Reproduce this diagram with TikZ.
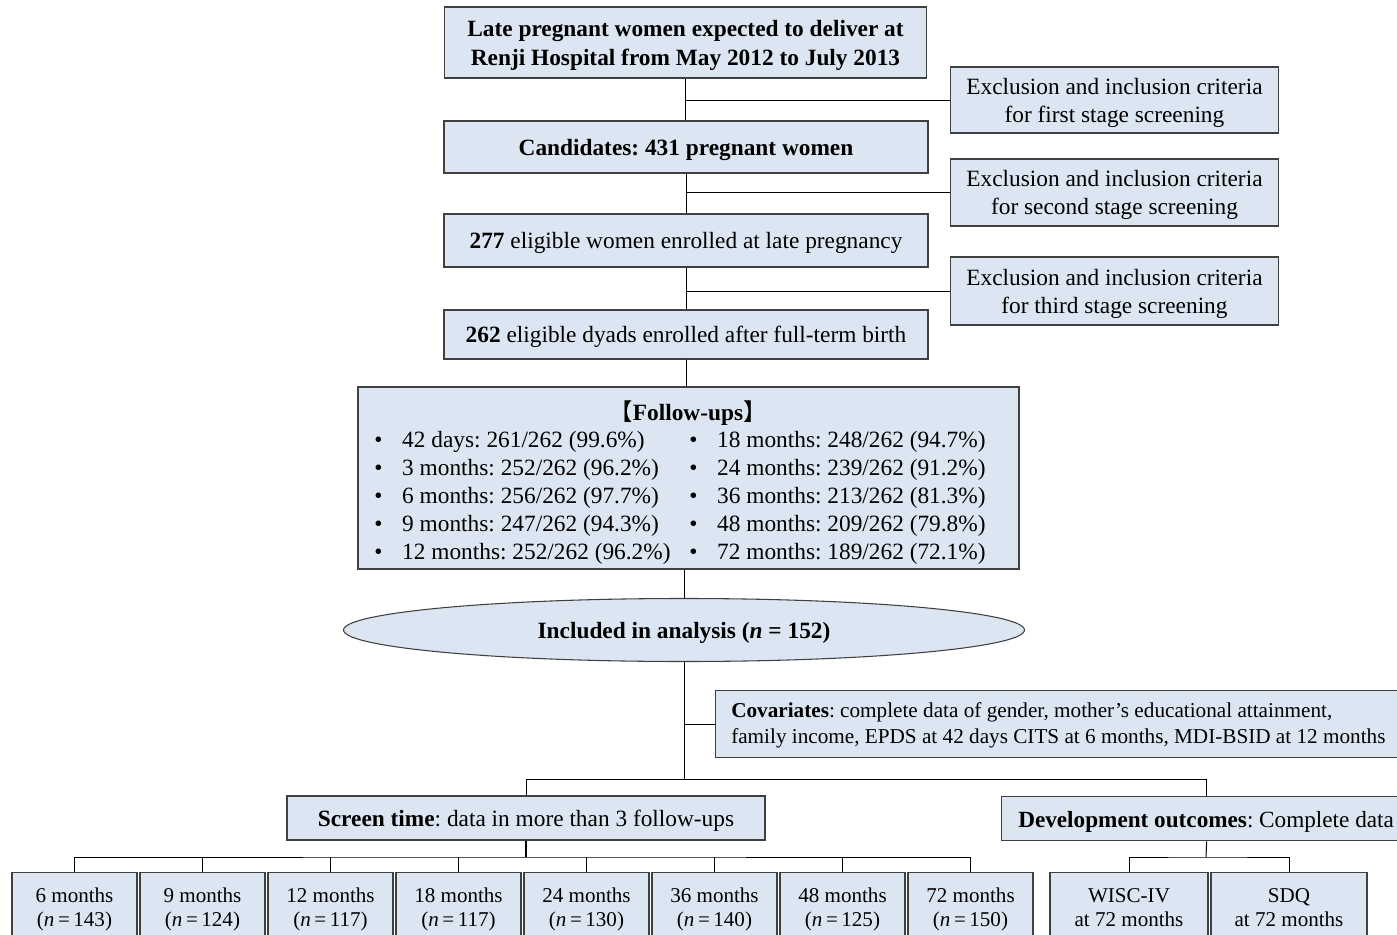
\documentclass[tikz,border=0pt]{standalone}
\usepackage{fontspec}
\setmainfont{Liberation Serif}
\newfontfamily\cjk{Noto Sans CJK SC}
\usetikzlibrary{shapes.geometric}
\definecolor{boxblue}{HTML}{DCE6F2}
\definecolor{boxline}{HTML}{404040}
\def\pu{0.75pt}
\newcommand\bul{\makebox[21pt][l]{•}}
\frenchspacing
\begin{document}
\begin{tikzpicture}[x=0.75pt,y=-0.75pt,
  every node/.style={font=\fontsize{17.5}{21.75}\selectfont},
  box/.style={draw=boxline, fill=boxblue, line width=1pt, inner sep=0pt, align=center, text depth=0pt},
  small/.style={font=\fontsize{15.8}{18}\selectfont},
  txt/.style={inner sep=0pt, anchor=west},
  conn/.style={line width=0.75pt, black}]
\useasboundingbox (0,0) rectangle (1397,935);
\clip (0,0) rectangle (1397,935);

% main column
\node[box, minimum width=482*\pu, minimum height=71*\pu] (b1) at (685.5,42.5)
  {\bfseries Late pregnant women expected to deliver at\\\bfseries Renji Hospital from May 2012 to July 2013};
\node[box, minimum width=484*\pu, minimum height=52*\pu] (b2) at (686,147)
  {\textbf{Candidates: 431 pregnant women}};
\node[box, minimum width=484*\pu, minimum height=53*\pu] (b3) at (686,240.5)
  {\textbf{277} eligible women enrolled at late pregnancy};
\node[box, minimum width=484*\pu, minimum height=49*\pu] (b4) at (686,334.5)
  {\textbf{262} eligible dyads enrolled after full-term birth};

% criteria boxes
\tikzset{crit/.style={box, minimum width=328*\pu, font=\fontsize{17.5}{21}\selectfont}}
\node[crit, minimum height=66*\pu] (c1) at (1114.5,100)
  {Exclusion and inclusion criteria\\for first stage screening};
\node[crit, minimum height=67*\pu] (c2) at (1114.5,192.5)
  {Exclusion and inclusion criteria\\for second stage screening};
\node[crit, minimum height=68*\pu] (c3) at (1114.5,291)
  {Exclusion and inclusion criteria\\for third stage screening};

% follow-ups
\node[box, minimum width=661*\pu, minimum height=182*\pu] (fu) at (688.5,478) {};
\node[text depth=0pt] (fut) at (688,411) {{\cjk 【}\textbf{Follow-ups}{\cjk 】}};
\tikzset{row/.style={txt, text depth=0pt}}
\node[row] (fa1) at (374,439.5) {\bul 42 days: 261/262 (99.6\%)};
\node[row] (fa2) at (374,467.5) {\bul 3 months: 252/262 (96.2\%)};
\node[row] (fa3) at (374,495.5) {\bul 6 months: 256/262 (97.7\%)};
\node[row] (fa4) at (374,523.5) {\bul 9 months: 247/262 (94.3\%)};
\node[row] (fa5) at (374,551.5) {\bul 12 months: 252/262 (96.2\%)};
\node[row] (fb1) at (689,439.5) {\bul 18 months: 248/262 (94.7\%)};
\node[row] (fb2) at (689,467.5) {\bul 24 months: 239/262 (91.2\%)};
\node[row] (fb3) at (689,495.5) {\bul 36 months: 213/262 (81.3\%)};
\node[row] (fb4) at (689,523.5) {\bul 48 months: 209/262 (79.8\%)};
\node[row] (fb5) at (689,551.5) {\bul 72 months: 189/262 (72.1\%)};

% ellipse
\node[box, ellipse, line width=0.8pt, minimum width=681*\pu, minimum height=63*\pu] (el) at (684,630)
  {\textbf{Included in analysis (\textit{n} = 152)}};

% covariates
\node[box, anchor=north west, minimum width=690*\pu, minimum height=67*\pu] (cov) at (715,690) {};
\node[txt, align=left, font=\fontsize{15.9}{19.5}\selectfont] (covt) at (731,725.5)
  {\textbf{Covariates}: complete data of gender, mother's educational attainment,\\family income, EPDS at 42 days CITS at 6 months, MDI-BSID at 12 months};

% second level
\node[box, minimum width=478*\pu, minimum height=44*\pu] (st) at (526,818)
  {\textbf{Screen time}: data in more than 3 follow-ups};
\node[box, anchor=north west, minimum width=410*\pu, minimum height=44*\pu] (dev) at (1001,796) {};
\node[txt, text depth=0pt, font=\fontsize{17.4}{21}\selectfont] (devt) at (1018,819) {\textbf{Development outcomes}: Complete data};

% bottom row
\foreach \i/\t/\n in {0/6/143,1/9/124,2/12/117,3/18/117,4/24/130,5/36/140,6/48/125,7/72/150}
  \node[box, small, anchor=north, minimum width=125*\pu, minimum height=70*\pu] (m\i) at (74.5+128*\i,872)
    {\t\ months\\(\textit{n}\,=\,\n)};
\node[box, small, anchor=north, minimum width=158*\pu, minimum height=70*\pu] (wisc) at (1129,872) {WISC-IV\\at 72 months};
\node[box, small, anchor=north, minimum width=156*\pu, minimum height=70*\pu] (sdq) at (1289,872) {SDQ\\at 72 months};

% connectors
\coordinate (jt) at (684,779);
\coordinate (sb) at (526,857);
\coordinate (db) at (1206,857);
\draw[conn] (b1.south) -- (b1.south |- b2.north);
\draw[conn] (b1.south |- c1.west) -- (c1.west);
\draw[conn] (b2.south) -- (b2.south |- b3.north);
\draw[conn] (b2.south |- c2.west) -- (c2.west);
\draw[conn] (b3.south) -- (b3.south |- b4.north);
\draw[conn] (b3.south |- c3.west) -- (c3.west);
\draw[conn] (b4.south) -- (b4.south |- fu.north);
\draw[conn] (el.north |- fu.south) -- (el.north);
\draw[conn] (el.south) -- (jt);
\draw[conn] (el.south |- cov.west) -- (cov.west);
\draw[conn] (st.north) |- (jt);
\draw[conn] (jt) -| (dev.north);
\draw[conn, line width=1.4pt] (st.south) -- (sb);
\draw[conn] (m0.north) |- (sb) -| (m7.north);
\foreach \i in {1,...,6} \draw[conn] (m\i.north) -- (m\i.north |- sb);
\draw[conn] (dev.south) -- (db);
\draw[conn] (wisc.north) |- (db) -| (sdq.north);
\end{tikzpicture}
\end{document}
